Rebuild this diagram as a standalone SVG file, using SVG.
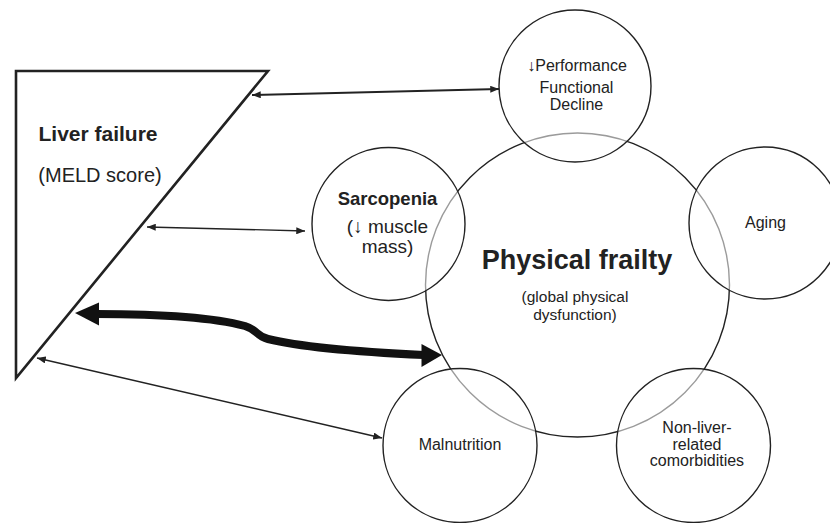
<svg xmlns="http://www.w3.org/2000/svg" width="830" height="523" viewBox="0 0 830 523">
<style>
text{font-family:"Liberation Sans",Arial,sans-serif;fill:#222;text-anchor:middle}
.b{font-weight:bold}
.big{stroke:#222;stroke-width:1.4;fill:none}
.sm{stroke:#222;stroke-width:1.4;fill:#fff;fill-opacity:0.55}
.thin{stroke:#222;fill:none}
</style>
<defs>
<marker id="ah" viewBox="0 0 10 8" refX="10" refY="4" markerWidth="9" markerHeight="7" markerUnits="userSpaceOnUse" orient="auto-start-reverse">
<path d="M0,0 L10,4 L0,8 Z" fill="#222"/>
</marker>
</defs>
<rect width="830" height="523" fill="#fff"/>
<g id="liver">
<polygon points="16,71 268,71 16,378" fill="#fff" stroke="#222" stroke-width="2.6" stroke-linejoin="miter"/>
<text class="b" x="98" y="141" font-size="21">Liver failure</text>
<text x="100" y="182" font-size="20">(MELD score)</text>
</g>
<g id="frailty">
<circle class="big" cx="577.5" cy="285" r="152"/>
<text class="b" x="577" y="269" font-size="27">Physical frailty</text>
<text x="575" y="302" font-size="15.5">(global physical</text>
<text x="575" y="319.5" font-size="15.5">dysfunction)</text>
</g>
<g id="performance">
<circle class="sm" cx="575" cy="86" r="76"/>
<text x="577" y="71" font-size="16">↓Performance</text>
<text x="576.5" y="93" font-size="16">Functional</text>
<text x="576.5" y="110" font-size="16">Decline</text>
</g>
<g id="sarcopenia">
<circle class="sm" cx="388.5" cy="224" r="76.5"/>
<text class="b" x="387.5" y="205" font-size="18.5">Sarcopenia</text>
<text x="387.5" y="233" font-size="19">(↓ muscle</text>
<text x="387.5" y="252.5" font-size="19">mass)</text>
</g>
<g id="aging">
<circle class="sm" cx="765" cy="223" r="76"/>
<text x="765.5" y="228" font-size="16">Aging</text>
</g>
<g id="malnutrition">
<circle class="sm" cx="460" cy="445.5" r="77"/>
<text x="460" y="450" font-size="16">Malnutrition</text>
</g>
<g id="comorbidities">
<circle class="sm" cx="693.5" cy="445.5" r="77"/>
<text x="697" y="433" font-size="16">Non-liver-</text>
<text x="697" y="450" font-size="16">related</text>
<text x="697" y="466" font-size="16">comorbidities</text>
</g>
<g id="connectors">
<line class="thin" x1="252" y1="95" x2="499" y2="89" stroke-width="2" marker-start="url(#ah)" marker-end="url(#ah)"/>
<line class="thin" x1="147" y1="227" x2="305" y2="231" stroke-width="1.3" marker-start="url(#ah)" marker-end="url(#ah)"/>
<line class="thin" x1="37" y1="358" x2="382" y2="438" stroke-width="1.5" marker-start="url(#ah)" marker-end="url(#ah)"/>
<path d="M 96,314 C 160,314 215,318 245,326 C 258,330 256,336 268,339 C 300,347 360,352 424,355" fill="none" stroke="#111" stroke-width="8"/>
<polygon points="75,313 99,302.5 99,325.5" fill="#111"/>
<polygon points="442,355 421.5,344 421.5,367" fill="#111"/>
</g>
</svg>
